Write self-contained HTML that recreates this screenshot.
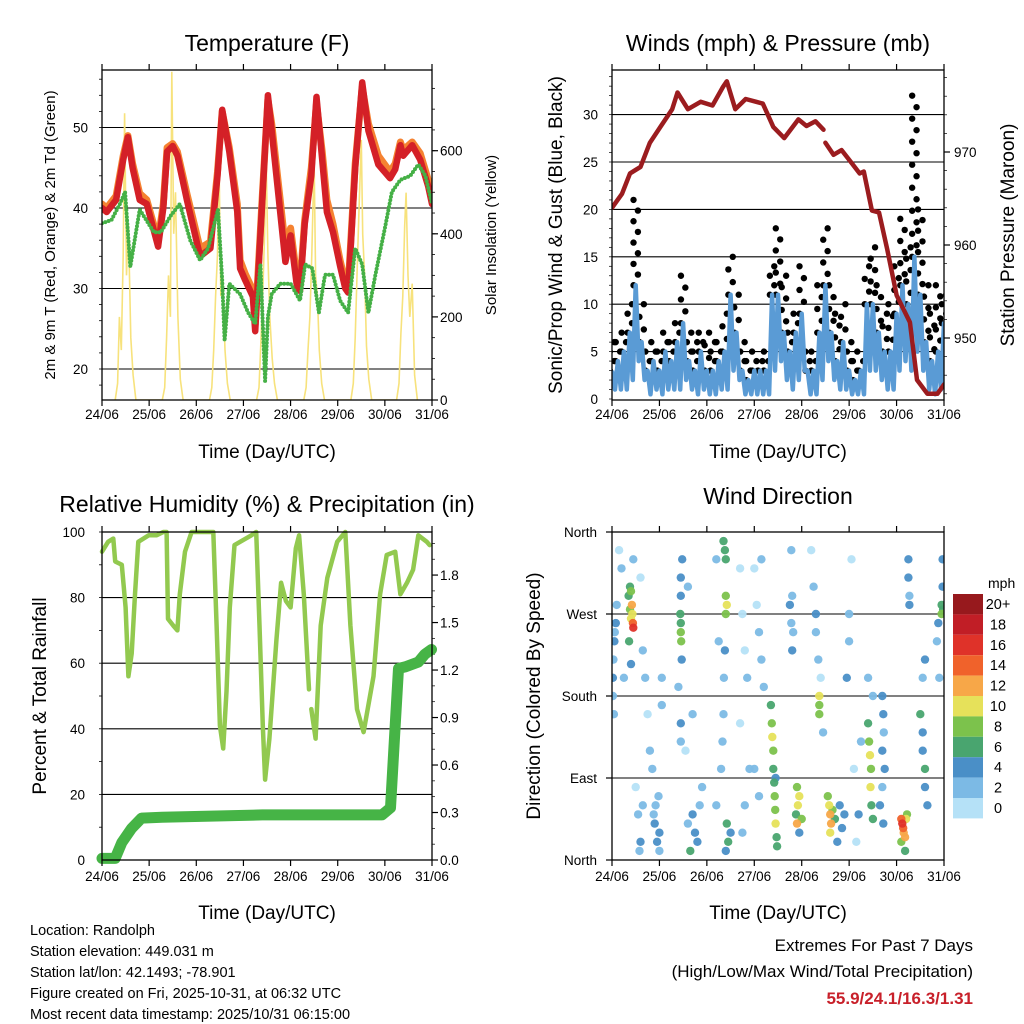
<!DOCTYPE html>
<html><head><meta charset="utf-8"><style>
html,body{margin:0;padding:0;background:#fff}
svg{display:block;font-family:"Liberation Sans",Arial,sans-serif}
</style></head><body>
<svg id="s" width="1024" height="1024" viewBox="0 0 1024 1024" xmlns="http://www.w3.org/2000/svg">
<rect width="1024" height="1024" fill="#fff"/>
<g id="g"></g>
<text x="267" y="51" font-size="23" text-anchor="middle">Temperature (F)</text>
<text x="778" y="51" font-size="23" text-anchor="middle">Winds (mph) &amp; Pressure (mb)</text>
<text x="267" y="512" font-size="23" text-anchor="middle">Relative Humidity (%) &amp; Precipitation (in)</text>
<text x="778" y="504" font-size="23" text-anchor="middle">Wind Direction</text>
<text x="267" y="458" font-size="19" text-anchor="middle">Time (Day/UTC)</text>
<text x="778" y="458" font-size="19" text-anchor="middle">Time (Day/UTC)</text>
<text x="267" y="919" font-size="19" text-anchor="middle">Time (Day/UTC)</text>
<text x="778" y="919" font-size="19" text-anchor="middle">Time (Day/UTC)</text>
<text transform="translate(55,235) rotate(-90)" font-size="15" text-anchor="middle">2m &amp; 9m T (Red, Orange) &amp; 2m Td (Green)</text>
<text transform="translate(496,235) rotate(-90)" font-size="15" text-anchor="middle">Solar Insolation (Yellow)</text>
<text transform="translate(562,235) rotate(-90)" font-size="19" text-anchor="middle">Sonic/Prop Wind &amp; Gust (Blue, Black)</text>
<text transform="translate(1014,235) rotate(-90)" font-size="19" text-anchor="middle">Station Pressure (Maroon)</text>
<text transform="translate(46,696) rotate(-90)" font-size="19" text-anchor="middle">Percent &amp; Total Rainfall</text>
<text transform="translate(540,696) rotate(-90)" font-size="19" text-anchor="middle">Direction (Colored By Speed)</text>
<g font-size="14.5">
<text x="30" y="935">Location: Randolph</text>
<text x="30" y="956">Station elevation: 449.031 m</text>
<text x="30" y="977">Station lat/lon: 42.1493; -78.901</text>
<text x="30" y="998">Figure created on Fri, 2025-10-31, at 06:32 UTC</text>
<text x="30" y="1019">Most recent data timestamp: 2025/10/31 06:15:00</text>
</g>
<text x="973" y="951" font-size="17" text-anchor="end">Extremes For Past 7 Days</text>
<text x="973" y="977" font-size="17" text-anchor="end">(High/Low/Max Wind/Total Precipitation)</text>
<text x="973" y="1004" font-size="17" font-weight="bold" fill="#c8202a" text-anchor="end">55.9/24.1/16.3/1.31</text>
</svg>
<script>
const dayLabels=["24/06","25/06","26/06","27/06","28/06","29/06","30/06","31/06"];
const redT=[0,0.1,0.3,0.45,0.55,0.65,0.8,0.95,1.19,1.3,1.38,1.5,1.6,1.8,2.08,2.3,2.45,2.55,2.7,2.87,2.93,3.04,3.2,3.25,3.4,3.52,3.6,3.78,3.89,4.0,4.14,4.2,4.3,4.44,4.55,4.67,4.77,4.9,5.05,5.16,5.22,5.37,5.52,5.65,5.86,6.11,6.22,6.33,6.39,6.58,6.75,6.92,7.0];
const redV=[40,39.5,41,46,48.8,45,41,40.5,35.2,40,47,47.7,46.5,41,34,35,44,52.2,47,39.5,32.5,31,29,24.7,41,54,49.6,39.5,33.3,36.6,30,29.7,38,44,53.8,46,39.5,37,32.8,30,29.5,45,55.6,49.6,45.4,43.7,44.8,47.8,46.5,47.8,46,42.7,40.5];
const orangeV=[40.5,40,41.5,46.5,49,45.5,41.8,41,36,40.5,47.5,48,47,41.8,35,35.8,44.5,52,47.5,40.5,33.5,31.8,29.8,25.5,41.5,53.5,50.5,41,35,37.5,31,30.5,38.5,45,53,47,41,38,33.5,30.8,30,45.5,55,50.5,46.5,44.5,45.5,48.2,47.2,48.2,46.8,43.5,41];
const tdT=[0,0.2,0.38,0.49,0.6,0.8,1.1,1.25,1.45,1.65,1.87,2.08,2.25,2.46,2.55,2.6,2.7,2.93,3.1,3.25,3.36,3.46,3.52,3.6,3.78,4.0,4.2,4.31,4.46,4.6,4.73,4.9,5.05,5.22,5.37,5.52,5.65,5.8,6.0,6.15,6.33,6.54,6.71,6.86,7.0];
const tdV=[38.1,38.5,40.5,42,32.7,39.8,37,37,39,40.5,36,33.5,35,39.8,31,23.5,30.6,29.3,27,25.6,33,18.5,26.5,29.3,30.6,30.6,28.5,33,32.5,27,31.7,31.7,28.5,27,35,33,27,31.7,37.5,42,43.5,44,45.4,44,40.5];
const solT=[0.28,0.33,0.37,0.41,0.45,0.48,0.52,0.56,0.61,0.66,0.72,
1.28,1.33,1.37,1.41,1.45,1.48,1.52,1.56,1.61,1.66,1.72,
2.28,2.33,2.37,2.41,2.45,2.48,2.52,2.56,2.61,2.66,2.72,
3.28,3.33,3.37,3.41,3.45,3.48,3.52,3.56,3.61,3.66,3.72,
4.28,4.33,4.37,4.41,4.45,4.50,4.53,4.57,4.61,4.66,4.72,
5.28,5.33,5.37,5.41,5.45,5.50,5.53,5.57,5.61,5.66,5.72,
6.25,6.30,6.34,6.38,6.42,6.45,6.49,6.53,6.58,6.63,6.69];
const solV=[0,40,200,120,350,690,300,420,150,60,0,
0,30,150,300,200,790,400,500,200,50,0,
0,30,120,250,350,600,250,300,120,40,0,
0,30,140,260,400,585,350,200,100,40,0,
0,30,120,200,350,578,300,250,120,40,0,
0,40,150,300,450,626,400,300,130,50,0,
0,40,160,250,420,499,300,200,280,60,0];
const windHi=[3,4,5,7,12,6,3,4,3,5,4,6,8,4,3,5,3,3,4,5,11,7,3,2,3,3,3,11,11,7,5,7,9,3,3,7,12,7,4,6,3,2,3,10,10,7,5,5,9,12,10,15,11,6,4,5,8];
const windLo=[1,1,1,2,4,2,0.5,1,0.5,1,1,1,2,1,0.5,1,0.5,0.5,1,1,3,2,0.5,0.5,0.5,0.5,0.5,3,4,2,1,2,3,0.5,0.5,2,4,2,1,1,0.5,0.5,0.5,3,3,2,1,1,3,4,3,5,3,1,0.5,1,2];
const windGust=[6,6,7,10,21,10,5,6,5,7,6,8,13,7,6,7,7,6,6,9,15,11,6,4,5,4,5,14,18,13,7,9,14,5,5,12,18,12,9,10,6,5,4,14,16,12,9,10,14,19,16,32,20,12,9,12,11];
const presT=[0,0.21,0.38,0.6,0.8,1.02,1.27,1.38,1.6,1.87,2.12,2.34,2.42,2.6,2.82,3.04,3.18,3.4,3.63,3.93,4.1,4.29,4.46,4.48,4.5,4.67,4.84,5.01,5.22,5.31,5.48,5.63,5.8,6.0,6.28,6.43,6.65,6.86,7.0];
const presV=[964,965.5,967.7,968.4,971,972.7,974.6,976.4,974.6,975.4,975,977,977.6,974.6,975.7,975.4,975.2,972.7,971.5,973.5,972.8,973.3,972.4,null,971,969.7,970.2,969.1,967.7,967.9,963.7,963.5,959.6,954.6,951.7,945.5,944,944,945];
const rhT=[0,0.13,0.24,0.28,0.42,0.5,0.56,0.63,0.7,0.77,0.99,1.16,1.3,1.37,1.4,1.51,1.6,1.65,1.76,1.9,2.36,2.43,2.5,2.57,2.64,2.71,2.81,3.17,3.27,3.34,3.41,3.46,3.55,3.7,3.8,3.9,4.0,4.11,4.18,4.28,4.39,4.42,4.44,4.53,4.64,4.78,4.99,5.16,5.27,5.41,5.55,5.76,5.9,6.04,6.22,6.33,6.47,6.6,6.71,6.89,6.95];
const rhV=[94,97,98,91,90,77,56,63,81,97,99,99,100,100,73.5,71.5,70,81,94,100,100,71.5,41,34,51.4,77,96,99,100,71.5,41,24.5,37,67,84.5,79,77,95,99,81,52,null,46,37,71.5,86,97,100,71.5,46,39,56,81,93,94,81,84.5,88.5,99,97,96];
const prT=[0,0.28,0.42,0.63,0.84,1.27,3.4,5.94,6.12,6.22,6.29,6.43,6.71,6.85,6.99];
const prV=[0.01,0.01,0.11,0.2,0.265,0.27,0.285,0.285,0.33,0.85,1.21,1.22,1.25,1.3,1.33];
const dirT=[0.02,0.02,0.03,0.05,0.04,0.06,0.08,0.1,0.35,0.38,0.4,0.42,0.44,0.43,0.45,0.38,0.36,0.4,0.4,0.45,0.55,0.6,0.65,0.58,0.5,0.15,0.2,0.25,0.6,0.65,0.7,0.75,0.8,0.85,0.9,0.95,0.92,1.0,1.0,0.98,0.88,1.05,1.05,1.45,1.45,1.44,1.46,1.45,1.45,1.47,1.48,1.4,1.45,1.45,1.6,1.7,1.8,1.85,1.75,1.65,1.9,1.55,1.6,1.7,2.35,2.38,2.4,2.4,2.42,2.4,2.38,2.36,2.35,2.33,2.3,2.42,2.45,2.5,2.4,2.2,2.25,2.2,2.7,2.75,2.8,2.85,2.7,2.9,2.8,2.75,3.35,3.37,3.38,3.4,3.4,3.42,3.43,3.44,3.45,3.47,3.48,3.45,3.0,3.05,3.1,3.15,3.2,3.0,3.1,3.15,3.75,3.78,3.8,3.8,3.78,3.82,3.9,3.92,3.9,3.95,3.88,4.0,3.95,4.37,4.37,4.37,4.2,4.25,4.3,4.3,4.35,4.4,4.45,4.55,4.58,4.6,4.62,4.6,4.65,4.7,4.75,4.8,4.85,4.9,4.95,5.0,5.0,5.05,5.1,5.15,5.2,5.25,5.4,5.42,5.44,5.46,5.45,5.47,5.5,5.5,5.4,5.7,5.72,5.73,5.7,5.75,5.7,5.65,5.72,6.1,6.12,6.14,6.15,6.18,6.2,6.1,6.22,6.18,6.25,6.25,6.27,6.27,6.5,6.55,6.55,6.6,6.6,6.65,6.55,6.6,6.85,6.88,6.95,6.95,6.98,6.97,6.97,6.9];
const dirD=[180,200,220,240,160,250,260,280,290,275,265,280,260,270,255,300,240,295,215,330,50,20,60,10,80,340,320,200,310,230,200,160,120,100,40,20,60,10,30,70,50,200,170,260,250,270,240,290,310,220,330,190,150,130,40,50,20,60,30,10,80,120,300,160,350,340,330,290,280,270,230,200,160,130,100,40,20,30,10,60,240,330,320,270,230,200,150,100,60,30,170,150,135,120,100,85,70,55,40,25,15,90,320,280,250,220,190,100,70,330,280,260,290,230,340,250,80,60,40,70,50,45,30,180,170,160,340,300,270,250,220,200,140,70,60,50,40,30,55,45,20,60,35,50,200,240,270,330,100,20,50,130,150,130,115,100,80,60,45,180,200,180,160,140,120,100,80,60,40,45,40,35,30,25,45,20,50,10,330,310,290,280,160,140,120,100,80,60,200,220,240,260,280,270,275,300,330,200];
const dirS=[3,4,3,4,2,3,4,3,7,9,10,12,15,11,16,6,7,8,4,2,3,4,2,3,1,1,2,2,1,3,2,1,2,3,4,4,3,3,5,2,2,3,3,7,8,6,8,5,4,4,4,3,4,3,3,4,4,3,5,6,2,1,2,2,6,7,6,9,11,8,4,3,3,2,2,6,7,5,4,2,2,2,1,1,1,2,1,3,2,2,6,8,10,9,7,6,8,9,10,7,6,5,1,1,2,2,3,2,3,2,4,3,2,4,2,3,8,10,12,11,6,9,4,10,9,8,1,2,4,3,2,1,2,8,10,12,13,11,9,6,4,4,5,4,4,2,3,1,1,1,4,3,6,8,10,9,10,7,6,3,2,4,4,3,5,4,3,5,4,14,16,15,13,12,10,8,9,6,4,4,3,4,6,5,4,6,5,4,3,4,3,4,7,8,6,4,5,3];
const cbLabels=["20+","18","16","14","12","10","8","6","4","2","0"];
const cbColors=["#97191d","#c11e26","#df3229","#f0622b","#f7a748","#e6e15a","#7cc24c","#49a56f","#4a8fc7","#7cbae5","#b5e1f7"];

const NS="http://www.w3.org/2000/svg";
const G=document.getElementById('g');
function mk(tag,attrs,parent){const e=document.createElementNS(NS,tag);for(const k in attrs)e.setAttribute(k,attrs[k]);(parent||G).appendChild(e);return e;}
function txt(x,y,s,size,anchor,parent){const e=mk('text',{x:x,y:y,'font-size':size,'text-anchor':anchor},parent);e.textContent=s;return e;}
function pathFrom(ts,vs,sx,sy){let d='',pen=false;for(let i=0;i<ts.length;i++){if(vs[i]===null){pen=false;continue;}d+=(pen?'L':'M')+sx(ts[i]).toFixed(1)+' '+sy(vs[i]).toFixed(1);pen=true;}return d;}

function frame(x0,y0,x1,y1,name,xlabY){
  const g=mk('g',{});
  
  
  const sx=t=>x0+t*(x1-x0)/7;
  for(let i=0;i<=7;i++){
    mk('line',{x1:sx(i),x2:sx(i),y1:y1,y2:y1+6,stroke:'#000','stroke-width':1.2},g);
    mk('line',{x1:sx(i),x2:sx(i),y1:y0,y2:y0-6,stroke:'#000','stroke-width':1.2},g);
    const t=txt(sx(i),xlabY,dayLabels[i],13.5,'middle',g);
    
    
  }
  mk('rect',{x:x0,y:y0,width:x1-x0,height:y1-y0,fill:'none',stroke:'#000','stroke-width':1.3},g);
  return sx;
}
function grid(x0,x1,y,parent){mk('line',{x1:x0,x2:x1,y1:y,y2:y,stroke:'#000','stroke-width':1.1},parent);}

// ---------- Temperature ----------
(function(){
  const x0=102,y0=70,x1=432,y1=400;
  const sxT=t=>x0+t*(x1-x0)/7;
  const syT=v=>208-(v-40)*8.05;
  const syS=v=>400-v*0.4155;
  const g=mk('g',{});
  
  
  [20,30,40,50].forEach(v=>{grid(x0,x1,syT(v),g);const t=txt(88,syT(v)+5,String(v),13.5,'end',g);});
  for(let v=18;v<=56;v+=2){mk('line',{x1:x0,x2:x0-3,y1:syT(v),y2:syT(v),stroke:'#000','stroke-width':0.8},g);}
  [0,200,400,600].forEach(v=>{mk('line',{x1:x1,x2:x1+6,y1:syS(v),y2:syS(v),stroke:'#000','stroke-width':1.2},g);const t=txt(440,syS(v)+5,String(v),13.5,'start',g);});
  for(let v=50;v<800;v+=50){mk('line',{x1:x1,x2:x1+3,y1:syS(v),y2:syS(v),stroke:'#000','stroke-width':0.8},g);}
  const cp=mk('clipPath',{id:'c1'},g);mk('rect',{x:x0,y:y0,width:x1-x0,height:y1-y0},cp);
  const pg=mk('g',{'clip-path':'url(#c1)'},g);
  const s=mk('path',{d:pathFrom(solT,solV,sxT,syS),fill:'none',stroke:'#f7e27c','stroke-width':1.6},pg);
  
  const o=mk('path',{d:pathFrom(redT,orangeV,sxT,syT),fill:'none',stroke:'#f58231','stroke-width':7,'stroke-linejoin':'round','stroke-linecap':'round'},pg);
  
  const r=mk('path',{d:pathFrom(redT,redV,sxT,syT),fill:'none',stroke:'#d42027','stroke-width':6.5,'stroke-linejoin':'round','stroke-linecap':'round'},pg);
  
  const d=mk('path',{d:pathFrom(tdT,tdV,sxT,syT),fill:'none',stroke:'#45b046','stroke-width':4,'stroke-linecap':'round','stroke-dasharray':'0 3.5','stroke-linejoin':'round'},pg);
  
  frame(x0,y0,x1,y1,'temperature',419);
})();

// ---------- Winds ----------
(function(){
  const x0=612,y0=70,x1=944,y1=400;
  const sx=t=>x0+t*(x1-x0)/7;
  const sy=v=>399-v*9.48;
  const sp=p=>152+(970-p)*9.3;
  const g=mk('g',{});
  
  
  [5,10,15,20,25,30].forEach(v=>grid(x0,x1,sy(v),g));
  [0,5,10,15,20,25,30].forEach(v=>{const t=txt(598,sy(v)+5,String(v),13.5,'end',g);});
  for(let v=0;v<=34;v++){mk('line',{x1:x0,x2:x0-3,y1:sy(v),y2:sy(v),stroke:'#000','stroke-width':0.7},g);}
  [950,960,970].forEach(v=>{mk('line',{x1:x1,x2:x1+6,y1:sp(v),y2:sp(v),stroke:'#000','stroke-width':1.2},g);const t=txt(954,sp(v)+5,String(v),13.5,'start',g);});
  for(let v=944;v<=979;v+=2){mk('line',{x1:x1,x2:x1+3,y1:sp(v),y2:sp(v),stroke:'#000','stroke-width':0.7},g);}
  const cp=mk('clipPath',{id:'c2'},g);mk('rect',{x:x0,y:y0,width:x1-x0,height:y1-y0},cp);
  const pg=mk('g',{'clip-path':'url(#c2)'},g);
  const tIdx=windHi.map((_,i)=>i/8);
  windGust.forEach((gv,i)=>{
    const hv=windHi[i];
    const n=Math.max(1,Math.round((gv-hv)/1.2));
    for(let k=0;k<=n;k++){
      const v=hv+(gv-hv)*k/n;
      const c=mk('circle',{cx:sx(tIdx[i])+(k%2?2.2:-2.2),cy:sy(v),r:3.2,fill:'#000'},pg);
      
      
    }
  });
  let d='';
  windHi.forEach((v,i)=>{
    d+=(i?'L':'M')+sx(tIdx[i]).toFixed(1)+' '+sy(v).toFixed(1);
    d+='L'+sx(tIdx[i]+1/16).toFixed(1)+' '+sy(windLo[i]).toFixed(1);
  });
  const b=mk('path',{d:d,fill:'none',stroke:'#5a9bd5','stroke-width':4.5,'stroke-linejoin':'round'},pg);
  
  const p=mk('path',{d:pathFrom(presT,presV,sx,sp),fill:'none',stroke:'#9b1c1f','stroke-width':4.5,'stroke-linejoin':'round','stroke-linecap':'round'},pg);
  
  frame(x0,y0,x1,y1,'winds',419);
})();

// ---------- RH & precip ----------
(function(){
  const x0=102,y0=532,x1=432,y1=860;
  const sx=t=>x0+t*(x1-x0)/7;
  const sy=v=>860-v*3.28;
  const spp=v=>860-v*158.3;
  const g=mk('g',{});
  
  
  [20,40,60,80].forEach(v=>grid(x0,x1,sy(v),g));
  [0,20,40,60,80,100].forEach(v=>{const t=txt(85,sy(v)+5,String(v),13.5,'end',g);});
  for(let v=0;v<=100;v+=10){mk('line',{x1:x0,x2:x0-3,y1:sy(v),y2:sy(v),stroke:'#000','stroke-width':0.8},g);}
  ["0.0","0.3","0.6","0.9","1.2","1.5","1.8"].forEach(s=>{const v=parseFloat(s);mk('line',{x1:x1,x2:x1+6,y1:spp(v),y2:spp(v),stroke:'#000','stroke-width':1.2},g);const t=txt(440,spp(v)+5,s,13.5,'start',g);});
  for(let v=0.1;v<2.05;v+=0.1){mk('line',{x1:x1,x2:x1+3,y1:spp(v),y2:spp(v),stroke:'#000','stroke-width':0.7},g);}
  const cp=mk('clipPath',{id:'c3'},g);mk('rect',{x:x0-6,y:y0-3,width:x1-x0+12,height:y1-y0+9},cp);
  const pg=mk('g',{'clip-path':'url(#c3)'},g);
  const r=mk('path',{d:pathFrom(rhT,rhV,sx,sy),fill:'none',stroke:'#92c94f','stroke-width':4.5,'stroke-linejoin':'round','stroke-linecap':'round'},pg);
  
  const p=mk('path',{d:pathFrom(prT,prV,sx,spp),fill:'none',stroke:'#46b446','stroke-width':11,'stroke-linejoin':'round','stroke-linecap':'round'},pg);
  
  frame(x0,y0,x1,y1,'humidity',881);
})();

// ---------- Wind direction ----------
(function(){
  const x0=612,y0=532,x1=944,y1=860;
  const sx=t=>x0+t*(x1-x0)/7;
  const sy=d=>860-d*(328/360);
  const g=mk('g',{});
  
  
  [90,180,270].forEach(v=>grid(x0,x1,sy(v),g));
  ["North","East","South","West","North"].forEach((s,i)=>{mk('line',{x1:x0,x2:x0-6,y1:sy(i*90),y2:sy(i*90),stroke:'#000','stroke-width':1.2},g);const t=txt(597,sy(i*90)+5,s,13.5,'end',g);});
  const cp=mk('clipPath',{id:'c4'},g);mk('rect',{x:x0,y:y0,width:x1-x0,height:y1-y0},cp);
  const pg=mk('g',{'clip-path':'url(#c4)'},g);
  const order=dirS.map((s,i)=>i).sort((a,b)=>dirS[a]-dirS[b]);
  order.forEach(i=>{
    const bin=Math.min(10,Math.floor(dirS[i]/2));
    const c=mk('circle',{cx:sx(dirT[i]).toFixed(1),cy:sy(dirD[i]).toFixed(1),r:4.2,fill:cbColors[10-bin],'fill-opacity':0.95},pg);
    
    
  });
  frame(x0,y0,x1,y1,'wind-direction',881);
  const lg=mk('g',{});
  
  
  const u=txt(988,588,'mph',14,'start',lg);
  
  
  cbLabels.forEach((s,i)=>{
    const y=594+i*20.4;
    const r=mk('rect',{x:953,y:y,width:30,height:20.4,fill:cbColors[i]},lg);
    
    
    const t=txt(998,y+15,s,14.5,'middle',lg);
    
    
  });
})();
</script>
</body></html>
